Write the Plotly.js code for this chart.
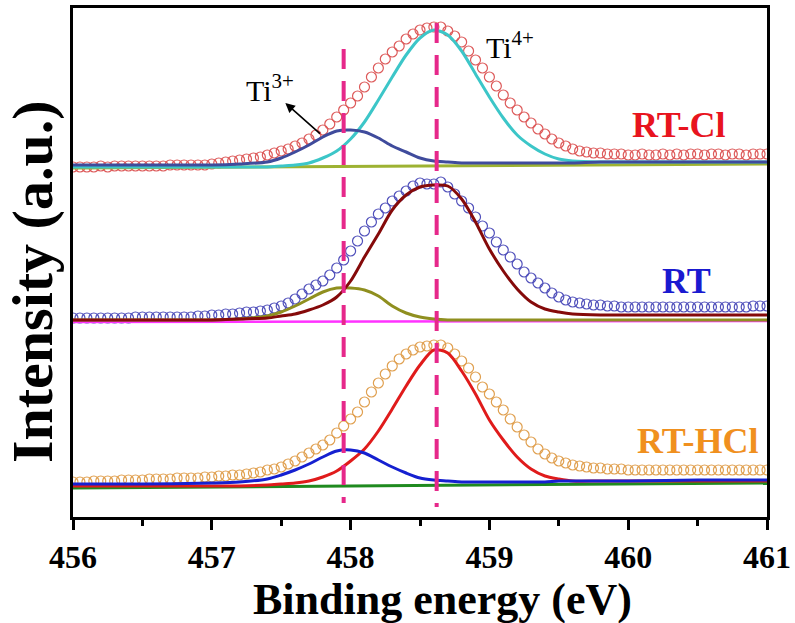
<!DOCTYPE html>
<html>
<head>
<meta charset="utf-8">
<script src="https://cdn.plot.ly/plotly-3.0.1.min.js"></script>
<style>html,body{margin:0;padding:0;background:#fff;}#chart{width:795px;height:623px;}</style>
</head>
<body>
<div id="chart"></div>
<script>
// Binding energy grid of the measured points (0.05 eV step)
const energy = [];
for (let i = 0; i <= 100; i++) energy.push(+(456 + i * 0.05).toFixed(2));

// Energy grid used for the fitted components
const fitEnergy = [456, 456.5, 457, 457.2, 457.4, 457.5, 457.6, 457.7, 457.8, 457.9, 458, 458.1, 458.2, 458.3, 458.4, 458.5, 458.6, 458.7, 458.8, 458.9, 459, 459.1, 459.2, 459.3, 459.4, 459.5, 459.6, 459.8, 460, 460.5, 461];
const baseEnergy = [456, 461];

// RT-Cl
const rtclData = [350,350,350,350,351,350,351,351,351,351,351,351,351,351,352,352,352,352,352,352,
  353,354,355,356,357,358,359,360,362,364,366,368,371,374,378,382,387,393,400,407,
  414,421,430,440,449,458,465,471,478,483,487,489,490,490,486,481,475,466,457,449,
  440,431,422,414,407,400,394,388,383,378,374,371,368,366,365,364,364,363,363,363,
  362,362,363,362,362,363,362,363,362,363,363,362,363,363,362,363,363,362,363,363,363];
const rtclTi4 = [350,350,350,350,350,351,352,354,359,366,378,395,417,440,462,479,487,482,466,443,420,399,382,371,363,358,356,355,355,355,355];
const rtclTi3 = [352,352,352,353,355,359,365,372,380,386,387,385,379,371,365,359,356,355,354,354,354,354,354,354,354,354,354,355,355,355,355];
const rtclBase = [349, 353];

// RT
const rtData = [199,199,199,199,199,199,199,199,199,200,200,200,200,200,200,200,200,200,201,201,
  202,202,203,203,204,205,205,206,207,209,211,214,218,223,228,232,236,242,249,257,
  266,276,286,295,303,309,316,321,326,331,334,333,333,335,330,323,316,309,300,291,
  284,275,267,260,253,245,239,234,229,224,220,217,215,214,213,212,212,211,211,210,
  210,210,210,210,210,210,210,210,210,210,210,210,210,210,210,210,210,210,211,211,211];
const rtTi4 = [197,197,197,198,199,201,203,207,212,220,236,260,283,307,322,330,332,331,318,295,268,246,228,215,208,205,203,202,202,202,202];
const rtTi3 = [197,197,197,198,201,205,211,218,225,229,229,227,221,211,204,200,198,197,197,197,197,197,197,197,197,197,197,197,197,197,197];
const rtBase = [195, 196];

// RT-HCl
const rthclData = [35,35,35,36,36,36,36,37,37,37,37,38,38,38,38,39,39,39,39,40,
  40,41,41,42,42,43,44,45,47,48,50,53,56,60,64,68,72,77,84,91,
  98,105,115,125,134,143,151,158,163,167,170,171,172,172,169,163,156,149,140,130,
  123,115,107,98,90,82,75,68,63,59,56,54,52,51,50,49,49,48,48,48,
  47,47,47,47,47,47,47,47,47,47,47,47,47,47,47,47,47,47,47,47,47];
const rthclTi4 = [31,31,31,31,32,33,34,36,40,46,56,68,86,108,131,152,167,164,146,123,97,77,60,48,41,38,36,36,36,36,36];
const rthclTi3 = [33,33,34,35,38,42,47,53,60,66,67,64,57,50,44,39,37,36,35,35,35,35,35,35,35,36,36,36,36,37,37];
const rthclBase = [29, 34];

// Reference peak positions (dashed lines)
const ti3Pos = 457.95, ti4Pos = 458.62;
const ti3Span = [468, 14], ti4Span = [494, 10];

const serif = 'Liberation Serif, Times New Roman, serif';

function dataTrace(y, color) {
  return {x: energy, y: y, mode: 'markers', type: 'scatter', hoverinfo: 'skip',
    marker: {symbol: 'circle-open', size: 10, color: color, line: {width: 1.2, color: color}}};
}
function lineTrace(x, y, color, w) {
  return {x: x, y: y, mode: 'lines', type: 'scatter', hoverinfo: 'skip',
    line: {color: color, width: w || 3, shape: x.length > 2 ? 'spline' : 'linear', smoothing: 0.8}};
}

const traces = [
  dataTrace(rtclData, '#dd5a5a'),
  lineTrace(baseEnergy, rtclBase, '#9db232'),
  lineTrace(fitEnergy, rtclTi4, '#3cc6c8'),
  lineTrace(fitEnergy, rtclTi3, '#3f4b9c'),

  dataTrace(rtData, '#5050bb'),
  lineTrace(baseEnergy, rtBase, '#ff33ff', 2.5),
  lineTrace(fitEnergy, rtTi3, '#8f8f1f'),
  lineTrace(fitEnergy, rtTi4, '#850a0a'),

  dataTrace(rthclData, '#e0a050'),
  lineTrace(baseEnergy, rthclBase, '#1f8a1f'),
  lineTrace(fitEnergy, rthclTi4, '#e01b1b'),
  lineTrace(fitEnergy, rthclTi3, '#1520d0'),

  {x: [ti3Pos, ti3Pos], y: ti3Span, mode: 'lines', type: 'scatter', hoverinfo: 'skip',
    line: {color: '#e6288a', width: 4, dash: '20px,12px'}},
  {x: [ti4Pos, ti4Pos], y: ti4Span, mode: 'lines', type: 'scatter', hoverinfo: 'skip',
    line: {color: '#e6288a', width: 4, dash: '20px,12px'}}
];

const layout = {
  width: 795, height: 623,
  margin: {l: 73, r: 28, t: 8, b: 106},
  paper_bgcolor: '#fff', plot_bgcolor: '#fff',
  showlegend: false,
  xaxis: {
    range: [456, 461], dtick: 1, tick0: 456,
    ticks: 'outside', ticklen: 10, tickwidth: 3, tickcolor: '#000',
    minor: {dtick: 0.5, ticks: 'outside', ticklen: 6, tickwidth: 3, tickcolor: '#000'},
    showline: true, linewidth: 3, linecolor: '#000', mirror: true,
    showgrid: false, zeroline: false,
    tickfont: {family: serif, size: 32, color: '#000', weight: 'bold'}
  },
  yaxis: {
    range: [0, 509], showticklabels: false, ticks: '',
    showline: true, linewidth: 3, linecolor: '#000', mirror: true,
    showgrid: false, zeroline: false
  },
  annotations: [
    {xref: 'paper', yref: 'paper', x: 0.532, y: -0.163, xanchor: 'center', yanchor: 'middle',
      text: 'Binding energy (eV)', showarrow: false,
      font: {family: serif, size: 44, color: '#000', weight: 'bold'}},
    {xref: 'paper', yref: 'paper', x: -0.0576, y: 0.4617, xanchor: 'center', yanchor: 'middle',
      text: 'Intensity (a.u.)', showarrow: false, textangle: -90,
      font: {family: serif, size: 58, color: '#000', weight: 'bold'}},
    {x: 457.42, y: 429, text: 'Ti<sup>3+</sup>', showarrow: false,
      font: {family: serif, size: 30, color: '#000'}},
    {x: 459.15, y: 472, text: 'Ti<sup>4+</sup>', showarrow: false,
      font: {family: serif, size: 30, color: '#000'}},
    {x: 457.53, y: 414, ax: 457.79, ay: 382, axref: 'x', ayref: 'y', text: '',
      showarrow: true, arrowhead: 2, arrowsize: 1.2, arrowwidth: 1.6, arrowcolor: '#000', standoff: 0},
    {x: 460.36, y: 392, text: 'RT-Cl', showarrow: false,
      font: {family: serif, size: 36, color: '#e8141e', weight: 'bold'}},
    {x: 460.42, y: 236, text: 'RT', showarrow: false,
      font: {family: serif, size: 36, color: '#1a1ad0', weight: 'bold'}},
    {x: 460.5, y: 76, text: 'RT-HCl', showarrow: false,
      font: {family: serif, size: 36, color: '#f0901e', weight: 'bold'}}
  ]
};

Plotly.newPlot('chart', traces, layout, {displayModeBar: false, staticPlot: true});
</script>
</body>
</html>
